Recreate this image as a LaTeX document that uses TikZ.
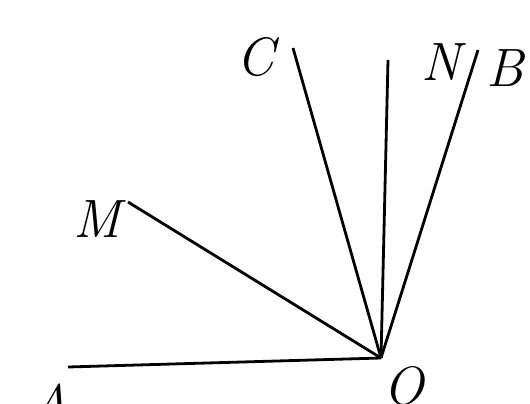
\documentclass[tikz,border=0pt]{standalone}
\begin{document}
\begin{tikzpicture}[x=1pt,y=-1pt,
  ray/.style={line width=2.8pt},
  lbl/.style={inner sep=0pt,font=\fontsize{54}{60}\selectfont\itshape}]
\useasboundingbox (0,0) rectangle (530,404);
\clip (0,0) rectangle (530,404);
\fill[white] (0,0) rectangle (530,404);
\coordinate (O) at (381,358);
\coordinate (A) at (68,367);
\coordinate (M) at (128,202);
\coordinate (C) at (293,48);
\coordinate (N) at (388,60);
\coordinate (B) at (478,50);
\draw[ray] (A) -- (O);
\draw[ray] (M) -- (O);
\draw[ray] (C) -- (O);
\draw[ray] (N) -- (O);
\draw[ray] (B) -- (O);
\node[lbl] (lA) at (50,403) {A};
\node[lbl] (lO) at (404,386) {O};
\node[lbl] (lM) at (97,219) {M};
\node[lbl] (lC) at (255,57) {C};
\node[lbl] (lN) at (441,62) {N};
\node[lbl] (lB) at (505,68) {B};
\end{tikzpicture}
\end{document}
